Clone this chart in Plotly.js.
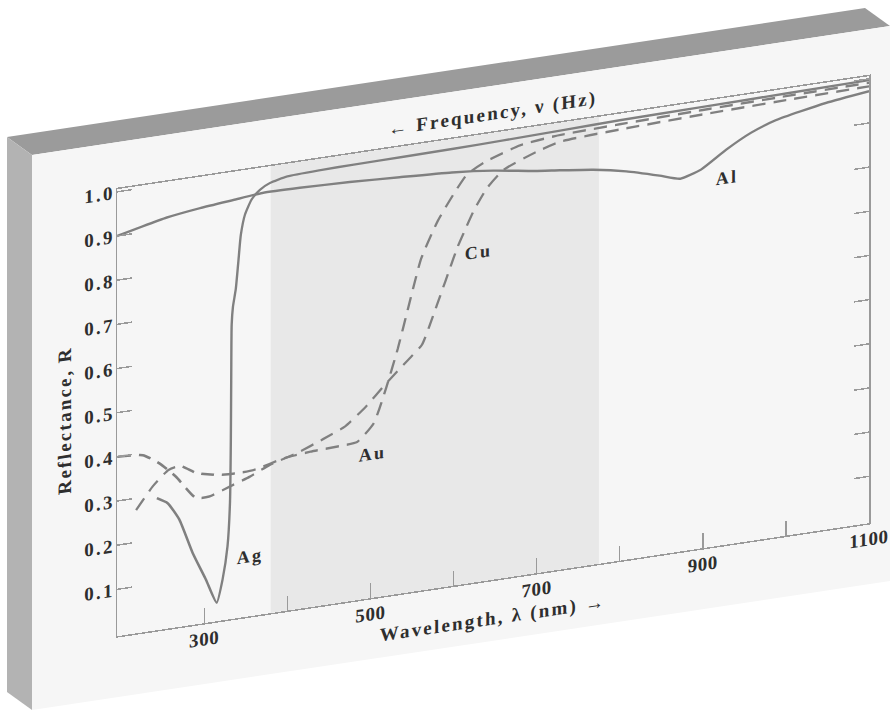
<!DOCTYPE html>
<html>
<head>
<meta charset="utf-8">
<script src="https://cdn.plot.ly/plotly-3.0.1.min.js"></script>
<style>
  html, body { margin: 0; padding: 0; background: #ffffff; width: 890px; height: 712px; overflow: hidden; }
  #edges { position: absolute; left: 0; top: 0; }
  #panel { position: absolute; left: 32px; top: 155px; width: 858px; height: 555px;
           transform: skewY(-8.55deg); transform-origin: 0 0; }
  #panel text { letter-spacing: 2.2px; }
  #panel .xtick text { letter-spacing: 0.6px; }
</style>
</head>
<body>
<svg id="edges" width="890" height="712">
  <polygon points="7,137 865,8 890,26 32,155" fill="#9b9b9b"/>
  <polygon points="7,137 32,155 32,710 7,692" fill="#b3b3b3"/>
</svg>
<div id="panel"></div>
<script>
// ---- data (wavelength in nm, reflectance R) ----
const wavelengthAg = [243, 256, 270, 286, 302, 315, 322, 328, 331, 332, 332.5, 333, 334.5, 338, 341, 344, 349, 357, 367, 379, 400, 440, 480, 540, 600, 660, 730, 800, 900, 1000, 1100];
const reflectanceAg = [0.293, 0.278, 0.237, 0.157, 0.092, 0.036, 0.086, 0.16, 0.26, 0.40, 0.55, 0.66, 0.70, 0.74, 0.80, 0.86, 0.905, 0.937, 0.956, 0.968, 0.977, 0.980, 0.981, 0.982, 0.983, 0.985, 0.988, 0.991, 0.993, 0.995, 0.997];

const wavelengthAl = [195, 225, 255, 295, 335, 370, 415, 475, 535, 598, 648, 698, 728, 768, 808, 848, 873, 898, 928, 958, 988, 1048, 1100];
const reflectanceAl = [0.900, 0.913, 0.925, 0.935, 0.942, 0.948, 0.947, 0.943, 0.937, 0.930, 0.920, 0.905, 0.898, 0.888, 0.873, 0.852, 0.838, 0.852, 0.888, 0.918, 0.938, 0.960, 0.972];

const wavelengthAu = [218, 238, 257, 271, 291, 316, 340, 360, 396, 428, 468, 484, 504, 519, 533, 545, 561, 581, 600, 616, 640, 680, 720, 800, 900, 1000, 1100];
const reflectanceAu = [0.273, 0.321, 0.353, 0.358, 0.336, 0.325, 0.322, 0.324, 0.340, 0.346, 0.349, 0.352, 0.389, 0.465, 0.550, 0.635, 0.745, 0.825, 0.880, 0.920, 0.944, 0.968, 0.977, 0.982, 0.986, 0.989, 0.991];

const wavelengthCu = [196, 226, 246, 266, 290, 306, 330, 355, 379, 411, 443, 470, 495, 519, 545, 562, 575, 585, 595, 605, 615, 625, 640, 660, 700, 729, 800, 900, 1000, 1100];
const reflectanceCu = [0.400, 0.395, 0.371, 0.335, 0.280, 0.279, 0.294, 0.310, 0.330, 0.347, 0.370, 0.392, 0.430, 0.475, 0.520, 0.550, 0.610, 0.660, 0.710, 0.760, 0.800, 0.838, 0.882, 0.918, 0.948, 0.963, 0.970, 0.976, 0.980, 0.983];

const xTickValues = [300, 400, 500, 600, 700, 800, 900, 1000, 1100];
const xTickLabels = ["300", "", "500", "", "700", "", "900", "", "1100"];
const yTickValues = [0.1, 0.2, 0.3, 0.4, 0.5, 0.6, 0.7, 0.8, 0.9, 1.0];
const yTickLabels = ["0.1", "0.2", "0.3", "0.4", "0.5", "0.6", "0.7", "0.8", "0.9", "1.0"];

const visibleBand = [380, 775];

const curveLabels = ["Ag", "Au", "Cu", "Al"];
const labelX = [355, 503, 630, 929];
const labelY = [0.13, 0.321, 0.74, 0.825];

// ---- drawing ----
const lineGray = '#808080';
const fontFamily = '"Liberation Serif", "Times New Roman", serif';
const textColor = '#2e2e2e';

function curve(x, y, dashed) {
  return {
    x: x, y: y, type: 'scatter', mode: 'lines', hoverinfo: 'skip',
    line: { color: lineGray, width: 2.4, shape: 'spline', smoothing: 0.5, dash: dashed ? '13px,8px' : 'solid' }
  };
}

const data = [
  curve(wavelengthAl, reflectanceAl, false),
  curve(wavelengthAg, reflectanceAg, false),
  curve(wavelengthAu, reflectanceAu, true),
  curve(wavelengthCu, reflectanceCu, true)
];

const annotations = curveLabels.map((t, i) => ({
  x: labelX[i], y: labelY[i], xref: 'x', yref: 'y', text: t, showarrow: false,
  xanchor: 'center', yanchor: 'middle',
  font: { family: fontFamily, size: 18, color: textColor, weight: 'bold' }
}));
annotations.push({
  x: 0.5, y: 1, xref: 'paper', yref: 'paper', text: '← Frequency, ν (Hz)', showarrow: false,
  xanchor: 'center', yanchor: 'middle', yshift: 19,
  font: { family: fontFamily, size: 19, color: textColor, weight: 'bold' }
});

const axisCommon = {
  showgrid: false, zeroline: false, showline: true, linecolor: '#9a9a9a', linewidth: 1.5,
  ticks: 'inside', ticklen: 15, tickwidth: 1.5, tickcolor: '#9a9a9a',
  tickfont: { family: fontFamily, size: 19, color: textColor, weight: 'bold' },
  tickmode: 'array'
};

const layout = {
  width: 858, height: 555,
  margin: { l: 85, r: 21, t: 47, b: 61 },
  paper_bgcolor: '#f6f6f6', plot_bgcolor: '#f6f6f6',
  showlegend: false,
  xaxis: Object.assign({}, axisCommon, {
    range: [195, 1100], tickvals: xTickValues, ticktext: xTickLabels, mirror: true,
    ticklabelstandoff: -2,
    title: { text: 'Wavelength, λ (nm) →', standoff: 6,
             font: { family: fontFamily, size: 19, color: textColor, weight: 'bold' } }
  }),
  yaxis: Object.assign({}, axisCommon, {
    range: [-0.006, 1.006], tickvals: yTickValues, ticktext: yTickLabels, mirror: 'ticks',
    ticklabelstandoff: -3,
    title: { text: 'Reflectance, R', standoff: 14,
             font: { family: fontFamily, size: 19, color: textColor, weight: 'bold' } }
  }),
  shapes: [{
    type: 'rect', xref: 'x', yref: 'paper', x0: visibleBand[0], x1: visibleBand[1], y0: 0, y1: 1,
    fillcolor: '#e8e8e8', line: { width: 0 }, layer: 'below'
  }],
  annotations: annotations
};

Plotly.newPlot('panel', data, layout, { staticPlot: true, displayModeBar: false });
</script>
</body>
</html>
